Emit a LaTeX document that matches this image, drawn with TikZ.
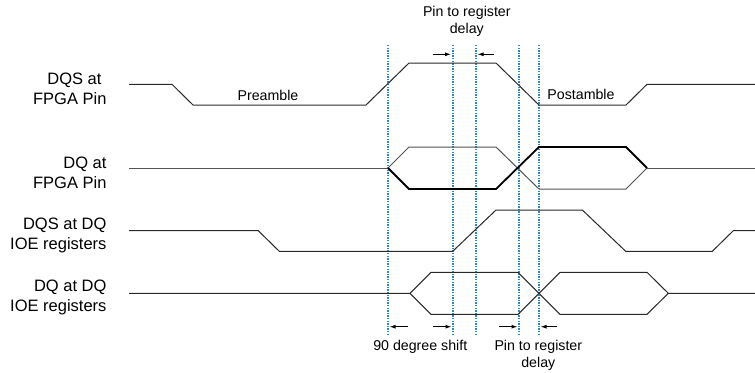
\documentclass[tikz,border=0pt]{standalone}
\usepackage{fontspec}
\setmainfont{Liberation Sans}
\usetikzlibrary{arrows.meta}
\definecolor{guide}{RGB}{45,135,195}
\definecolor{wave}{RGB}{40,40,40}
\tikzset{
  x=1bp, y=-1bp,
  wavel/.style={draw=wave, line width=1bp, line join=miter},
  waveb/.style={draw=black, line width=1.8bp, line join=miter},
  wavet/.style={draw=wave!80, line width=1bp, line join=miter},
  guideline/.style={draw=guide, line width=1.3bp, dash pattern=on 1.3bp off 1.3bp},
  sig/.style={font=\fontsize{16.5bp}{20bp}\selectfont, align=right, anchor=east, inner sep=0pt},
  lbl/.style={font=\fontsize{14.2bp}{17bp}\selectfont, align=center, inner sep=0pt},
  marker/.style={draw=black, line width=1bp, -{Latex[length=6bp,width=4bp]}}
}
\begin{document}
\begin{tikzpicture}
\useasboundingbox (0,0) rectangle (755,372);
% guides
\foreach \gx/\gb in {388/g1,453/g2,476/g3,519/g4,539/g5}{
  \draw[guideline] (\gx,45) -- (\gx,336);
}
% signal labels
\node[sig] (l1) at (106.7,89) {DQS at\hspace*{5bp}\\FPGA Pin};
\node[sig] (l2) at (106.7,172.7) {DQ at\\FPGA Pin};
\node[sig] (l3) at (106.7,235) {DQS at DQ\\IOE registers};
\node[sig] (l4) at (106.7,297.5) {DQ at DQ\\IOE registers};
% row 1 DQS at FPGA pin
\draw[wavel] (129,84.3) -- (172,84.3) -- (193,105) -- (366,105) -- (409,63) -- (496,63) -- (539,105) -- (626,105) -- (647,84.3) -- (755,84.3);
\node[lbl] (pre) at (268,95.5) {Preamble};
\node[lbl] (post) at (581,94.3) {Postamble};
% row 2 DQ at FPGA pin
\draw[wavet] (129,168) -- (388,168);
\draw[wavet] (388,168) -- (409,147) -- (496,147) -- (539,189) -- (626,189) -- (647,168);
\draw[waveb] (388,168) -- (409,189) -- (496,189) -- (539,147) -- (626,147) -- (647,168);
\draw[wavet] (647,168) -- (755,168);
% row 3 DQS at DQ IOE
\draw[wavel] (129,230.7) -- (258.3,230.7) -- (279.3,251.3) -- (452.7,251.3) -- (496,210) -- (582.3,210) -- (625.7,251.3) -- (712.3,251.3) -- (733.3,230.7) -- (755,230.7);
% row 4 DQ at DQ IOE
\draw[wavel] (129,293.3) -- (410,293.3) -- (431,272.3) -- (518,272.3) -- (560,314.3) -- (647,314.3) -- (668.3,293.3) -- (755,293.3);
\draw[wavel] (410,293.3) -- (431,314.3) -- (518,314.3) -- (560,272.3) -- (647,272.3) -- (668.3,293.3);
% top delay
\node[lbl] (topd) at (466.8,21.5) {Pin to register\\delay};
\coordinate (ta1) at (432.7,54.3); \coordinate (tb1) at (451,54.3);
\coordinate (ta2) at (494,54.3); \coordinate (tb2) at (477.5,54.3);
\draw[marker] (ta1) -- (tb1);
\draw[marker] (ta2) -- (tb2);
% bottom arrows
\coordinate (ba1) at (408.3,326.7); \coordinate (bb1) at (389.5,326.7);
\coordinate (ba2) at (433.3,326.7); \coordinate (bb2) at (451.5,326.7);
\coordinate (ba3) at (499.3,326.7); \coordinate (bb3) at (517.5,326.7);
\coordinate (ba4) at (557.3,326.7); \coordinate (bb4) at (540.5,326.7);
\draw[marker] (ba1) -- (bb1);
\draw[marker] (ba2) -- (bb2);
\draw[marker] (ba3) -- (bb3);
\draw[marker] (ba4) -- (bb4);
\node[lbl] (shift) at (420.3,346.7) {90 degree shift};
\node[lbl] (botd) at (538.3,355) {Pin to register\\delay};
\end{tikzpicture}
\end{document}
